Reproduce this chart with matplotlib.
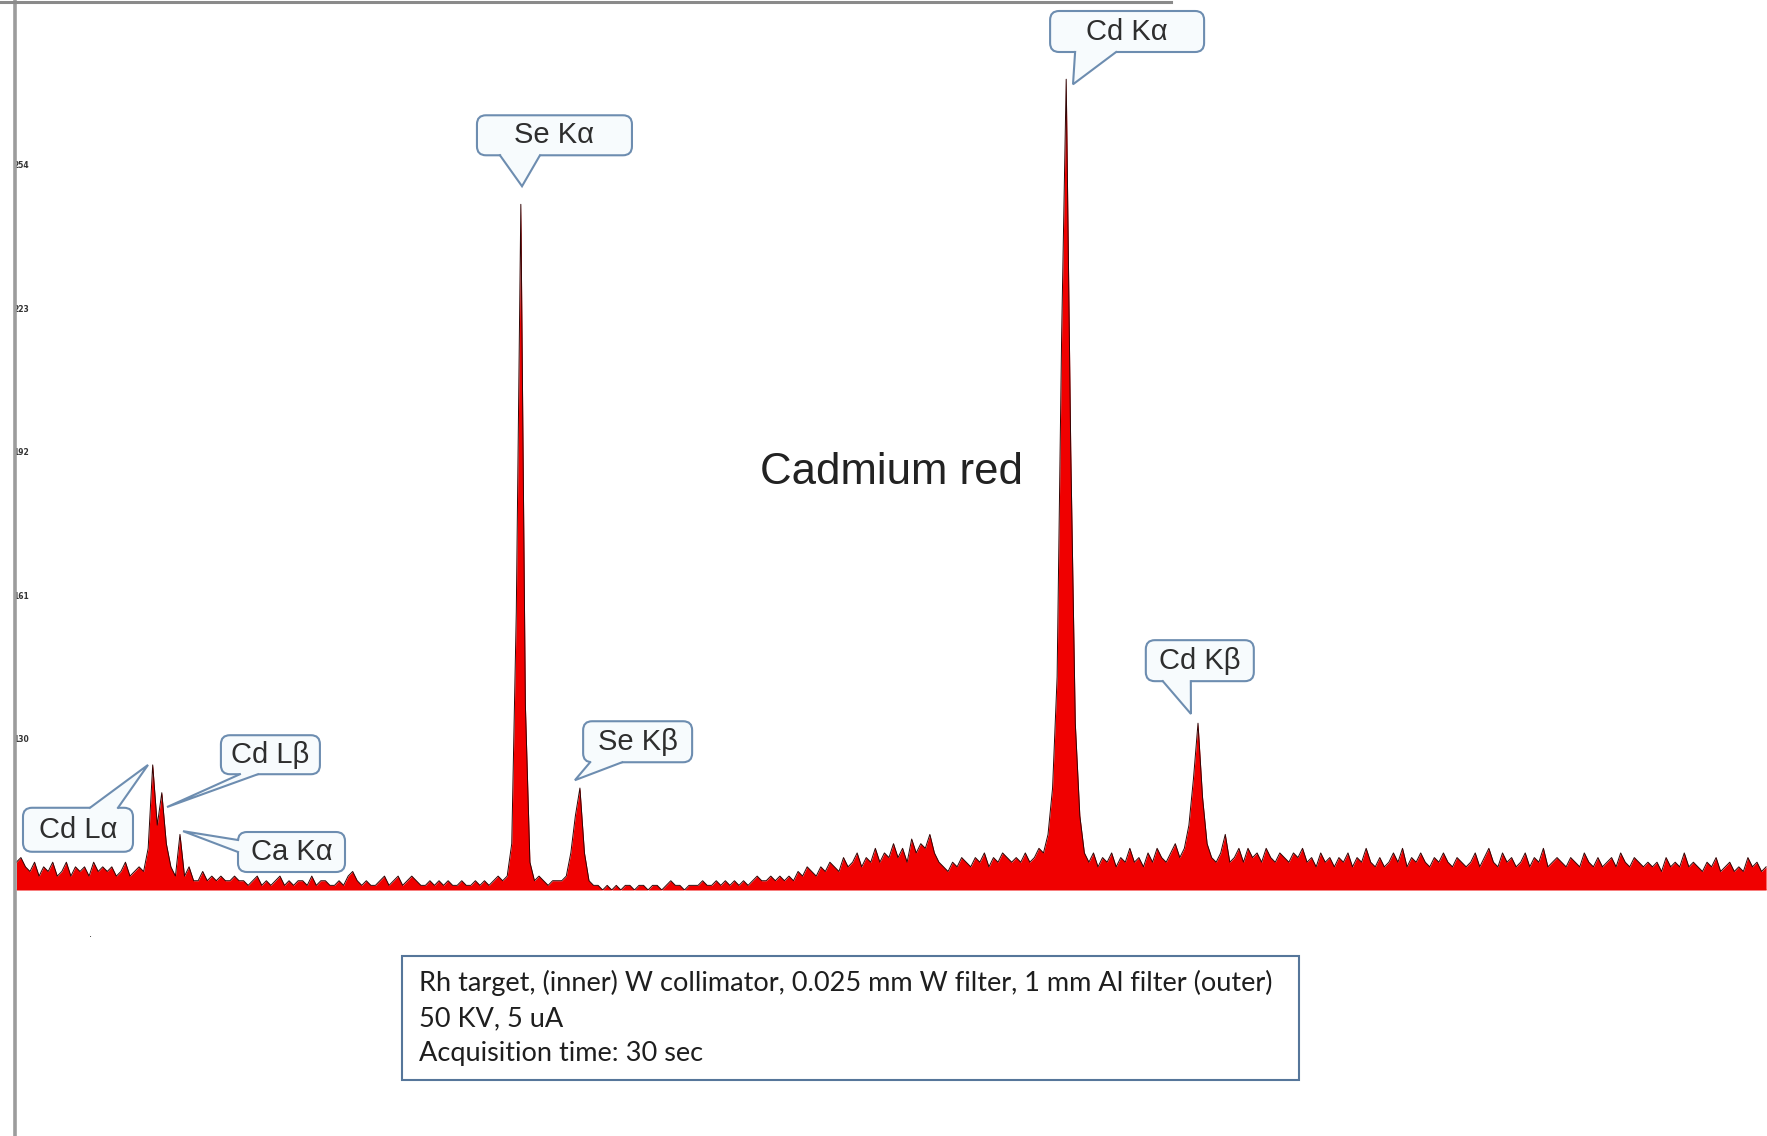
import numpy as np
import matplotlib.pyplot as plt
from matplotlib.lines import Line2D
from matplotlib.patches import FancyBboxPatch, Polygon, Rectangle

plt.rcParams['font.family'] = ['Liberation Sans', 'DejaVu Sans']

# XRF spectrum, 0.1 keV channels starting at 0.1 keV, counts above the floor
floor = 97.4
net_counts = [
    6, 7, 5, 4, 6, 3, 5, 4, 6, 3,
    4, 6, 3, 5, 4, 5, 3, 6, 4, 5,
    4, 5, 3, 4, 6, 3, 4, 5, 4, 9,
    27, 14, 21, 10, 5, 3, 12, 3, 5, 2,
    2, 4, 2, 3, 2, 3, 2, 2, 3, 2,
    2, 1, 2, 3, 1, 2, 1, 2, 3, 1,
    2, 1, 2, 2, 1, 3, 1, 2, 2, 1,
    1, 2, 1, 3, 4, 2, 1, 2, 1, 1,
    2, 3, 1, 2, 3, 1, 2, 3, 2, 1,
    1, 2, 1, 2, 1, 2, 1, 1, 2, 1,
    1, 2, 1, 2, 1, 2, 3, 2, 3, 10,
    60, 148, 40, 6, 2, 3, 2, 1, 2, 2,
    2, 3, 8, 16, 22, 8, 2, 1, 1, 0,
    1, 0, 1, 0, 1, 1, 0, 1, 1, 0,
    1, 1, 0, 1, 2, 1, 1, 0, 1, 1,
    1, 2, 1, 1, 2, 1, 2, 1, 2, 1,
    2, 1, 2, 3, 2, 2, 3, 2, 3, 2,
    3, 2, 4, 3, 5, 4, 3, 5, 4, 6,
    5, 4, 7, 5, 6, 8, 5, 7, 6, 9,
    6, 8, 7, 10, 7, 9, 6, 11, 8, 10,
    9, 12, 8, 6, 5, 4, 6, 5, 7, 6,
    5, 7, 6, 8, 5, 7, 6, 8, 7, 6,
    7, 6, 8, 6, 7, 9, 8, 12, 22, 46,
    120, 175, 95, 36, 16, 8, 6, 8, 5, 7,
    6, 8, 5, 7, 6, 9, 6, 7, 5, 8,
    6, 9, 7, 6, 8, 10, 7, 9, 14, 24,
    36, 20, 10, 7, 6, 8, 12, 6, 7, 9,
    6, 9, 7, 8, 6, 9, 7, 6, 8, 7,
    6, 8, 7, 9, 6, 7, 5, 8, 6, 7,
    5, 7, 6, 8, 5, 7, 6, 9, 6, 5,
    7, 5, 6, 8, 6, 9, 5, 7, 6, 8,
    6, 5, 7, 6, 8, 6, 5, 7, 6, 5,
    6, 8, 5, 7, 9, 6, 5, 8, 6, 7,
    5, 6, 8, 5, 7, 6, 9, 5, 6, 7,
    6, 5, 7, 6, 5, 8, 6, 5, 7, 5,
    6, 7, 5, 8, 6, 5, 7, 6, 5, 6,
    5, 6, 4, 7, 5, 6, 5, 8, 5, 6,
    5, 4, 6, 5, 7, 4, 5, 6, 4, 5,
    4, 7, 5, 6, 4, 5,
]
energy_kev = 0.1 * np.arange(1, len(net_counts) + 1)
counts = floor + np.array(net_counts, dtype=float)

ytick_values = [130, 161, 192, 223, 254]
ytick_labels = ["130", "161", "192", "223", "254"]

# peak callouts: label, tail tip (keV, counts), box centre (keV, counts)
peak_labels = ["Se Kα", "Cd Kα", "Se Kβ", "Cd Kβ", "Cd Lβ", "Cd Lα", "Ca Kα"]
tail_kev = [11.226, 23.35, 12.39, 25.945, 3.415, 2.997, 3.767]
tail_cts = [249.3, 271.3, 121.1, 135.4, 115.3, 124.4, 110.1]
box_kev = [11.94, 24.54, 13.77, 26.14, 5.69, 1.456, 6.154]
box_cts = [260.3, 282.7, 129.4, 146.9, 126.6, 110.4, 105.6]
# box size and where the tail leaves the box, in pixels from the box centre (y down)
box_size = [(155, 40), (154, 41), (109, 41), (108, 41), (99, 39), (110, 44), (107, 40)]
tail_base = [((-54.5, 20), (-14.5, 20)),
             ((-52, 20.5), (-11, 20.5)),
             ((-47.5, 20.5), (-15.5, 20.5)),
             ((-37, 20.5), (-9, 20.5)),
             ((-30.5, 19.5), (-12.5, 19.5)),
             ((12, -22), (40, -22)),
             ((-53.5, -12), (-53.5, 0))]

title = "Cadmium red"
info_lines = ["Rh target, (inner) W collimator, 0.025 mm W filter, 1 mm Al filter (outer)",
              "50 KV, 5 uA",
              "Acquisition time: 30 sec"]

W, H = 1767, 1136
fig = plt.figure(figsize=(W / 100, H / 100), dpi=100)
fig.patch.set_facecolor('white')

ax = fig.add_axes([15 / W, 1 - 890 / H, 1 - 15 / W, 890 / H])
ax.fill_between(energy_kev, floor, counts, color='#f00000', lw=0, zorder=2)
ax.plot(energy_kev, counts, color='#300404', lw=0.7, zorder=3)
ax.axhline(floor, color='#f6b9b9', lw=1.6, zorder=1)
ax.set_xlim(0.07, 38.62)
ax.set_ylim(floor, 289.5)
ax.set_xticks([])
ax.set_yticks(ytick_values)
ax.set_yticklabels(ytick_labels, fontsize=5.5, fontweight='bold', color='#333333',
                   ha='left', family='DejaVu Sans')
ax.tick_params(axis='y', length=0, pad=1)
for s in ax.spines.values():
    s.set_visible(False)
ax.patch.set_alpha(0)

# overlay in pixel units (y down) for the callouts and frame
ov = fig.add_axes([0, 0, 1, 1], zorder=5)
ov.set_xlim(0, W)
ov.set_ylim(H, 0)
ov.axis('off')


def to_px(e, c):
    x, y = ax.transData.transform((e, c))
    return x, H - y


box_fc = '#f7fbfd'
box_ec = '#6d8db0'
for i, lab in enumerate(peak_labels):
    cx, cy = to_px(box_kev[i], box_cts[i])
    tx, ty = to_px(tail_kev[i], tail_cts[i])
    w, h = box_size[i]
    ov.add_patch(FancyBboxPatch((cx - w / 2, cy - h / 2), w, h,
                                boxstyle='round,pad=0,rounding_size=9',
                                fc=box_fc, ec=box_ec, lw=1.5, zorder=5))
    (ax1, ay1), (ax2, ay2) = tail_base[i]
    b1 = (cx + ax1, cy + ay1)
    b2 = (cx + ax2, cy + ay2)
    # push the base slightly inside so it covers the box border
    b1i = (cx + ax1 * 0.93, cy + ay1 * 0.85)
    b2i = (cx + ax2 * 0.93, cy + ay2 * 0.85)
    ov.add_patch(Polygon([b1i, b1, (tx, ty), b2, b2i], closed=True, fc=box_fc,
                         ec='none', zorder=6))
    ov.plot([b1[0], tx, b2[0]], [b1[1], ty, b2[1]], color=box_ec, lw=1.5,
            zorder=7, solid_joinstyle='miter')
    ov.text(cx, cy, lab, fontsize=21, color='#2e2e2e', ha='center', va='center',
            zorder=8)

ov.text(891, 473, title, fontsize=31.5, color='#222222', ha='center', va='center')

# info box below the spectrum
ov.add_patch(Rectangle((402, 956), 897, 124, fc='white', ec='#56769a', lw=1.5, zorder=4))
for i, line in enumerate(info_lines):
    ov.text(419, 983 + 35.5 * i, line, fontsize=19.5, color='#1e1e1e',
            ha='left', va='center', family=['Lato', 'DejaVu Sans'], zorder=6)

ov.text(90, 934, '.', fontsize=8, color='#222222', ha='center', va='center')

# window frame lines
ov.add_line(Line2D([15, 15], [0, H], color='#9c9c9c', lw=2.6))
ov.add_line(Line2D([0, 1171], [1.5, 1.5], color='#8a8a8a', lw=2.2))

fig.savefig('out.png', dpi=100)
